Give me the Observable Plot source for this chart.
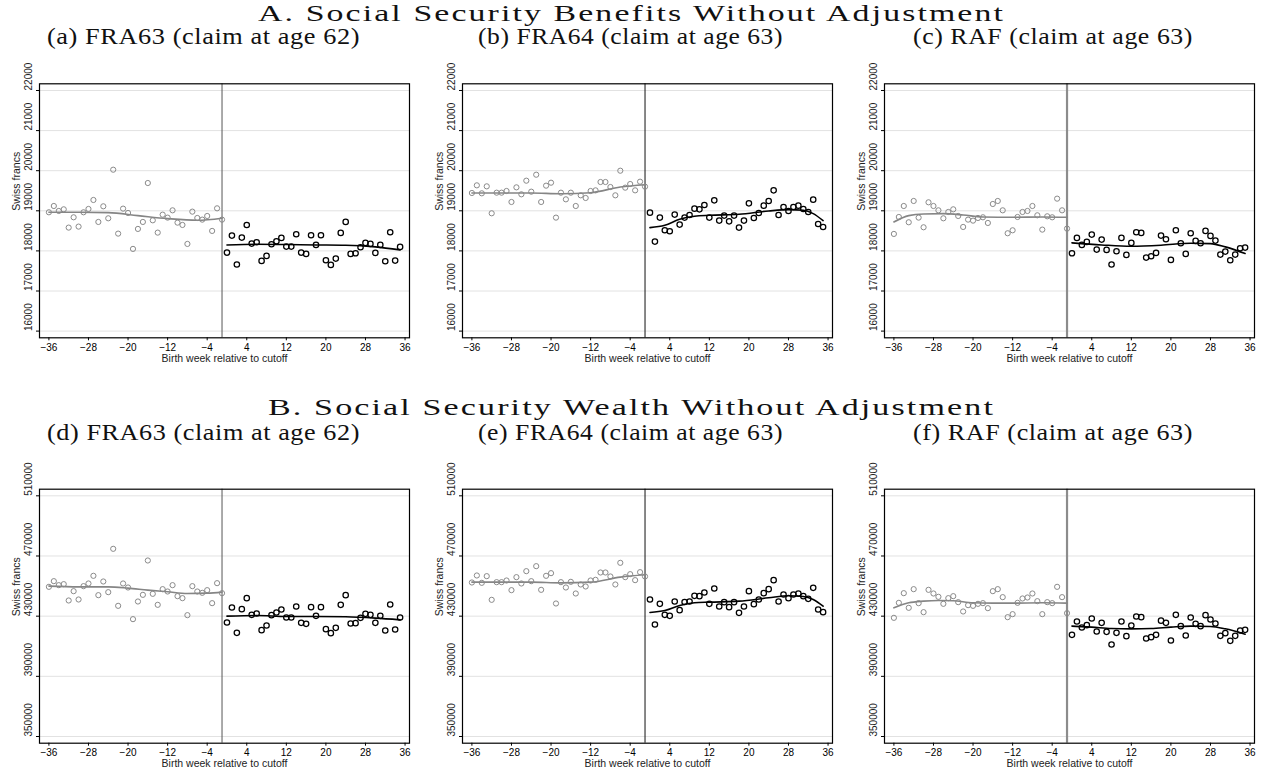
<!DOCTYPE html>
<html>
<head>
<meta charset="utf-8">
<script src="https://cdn.jsdelivr.net/npm/d3@7"></script>
<script src="https://cdn.jsdelivr.net/npm/@observablehq/plot@0.6"></script>
<style>
  html, body { margin: 0; padding: 0; background: #fff; }
  #page { position: relative; width: 1262px; height: 774px; overflow: hidden; background: #fff; }
  .ttl { position: absolute; white-space: nowrap; font-family: "Liberation Serif", "DejaVu Serif", serif;
         color: #111; transform-origin: left top; }
  .panel { position: absolute; }
</style>
</head>
<body>
<div id="page"></div>
<script>
// Birth week relative to the cutoff, before and after
const weeksPre = [-36,-35,-34,-33,-32,-31,-30,-29,-28,-27,-26,-25,-24,-23,-22,-21,-20,-19,-18,-17,-16,-15,-14,-13,-12,-11,-10,-9,-8,-7,-6,-5,-4,-3,-2,-1];
const weeksPost = [0,1,2,3,4,5,6,7,8,9,10,11,12,13,14,15,16,17,18,19,20,21,22,23,24,25,26,27,28,29,30,31,32,33,34,35];

const xTicks = [-36, -28, -20, -12, -4, 4, 12, 20, 28, 36];
const benefitTicks = [16000, 17000, 18000, 19000, 20000, 21000, 22000];
const wealthTicks = [350000, 390000, 430000, 470000, 510000];

// Panel A: Social Security benefits (Swiss francs)
const benFRA63Pre = [18963, 19120, 18996, 19037, 18581, 18838, 18606, 18963, 19046, 19270, 18722, 19112, 18813, 20025, 18431, 19054, 18946, 18050, 18548, 18722, 19693, 18763, 18456, 18904, 18830, 19012, 18705, 18647, 18174, 18979, 18821, 18780, 18871, 18498, 19062, 18780];
const benFRA63Post = [17958, 18382, 17660, 18332, 18647, 18182, 18216, 17751, 17875, 18166, 18241, 18324, 18108, 18108, 18415, 17958, 17925, 18390, 18149, 18390, 17767, 17651, 17809, 18448, 18722, 17925, 17942, 18091, 18199, 18174, 17950, 18149, 17743, 18465, 17759, 18100];
const benFRA64Pre = [19444, 19635, 19436, 19610, 18938, 19452, 19452, 19494, 19220, 19585, 19411, 19751, 19477, 19900, 19220, 19627, 19701, 18830, 19452, 19286, 19452, 19120, 19386, 19320, 19494, 19510, 19718, 19718, 19593, 19386, 20000, 19577, 19668, 19510, 19726, 19602];
const benFRA64Post = [18954, 18232, 18830, 18515, 18490, 18905, 18656, 18830, 18896, 19054, 19037, 19145, 18830, 19261, 18755, 18880, 18738, 18880, 18581, 18755, 19187, 18821, 18946, 19129, 19245, 19510, 18896, 19095, 18996, 19095, 19129, 19046, 18971, 19278, 18672, 18597];
const benRAFPre = [18423, 18846, 19120, 18714, 19245, 18830, 18589, 19212, 19120, 19012, 18813, 18971, 19037, 18871, 18597, 18780, 18755, 18821, 18838, 18697, 19170, 19245, 19012, 18440, 18514, 18846, 18971, 18996, 19120, 18888, 18531, 18863, 18838, 19303, 19012, 18556];
const benRAFPost = [17942, 18324, 18149, 18224, 18407, 18033, 18282, 18025, 17660, 17992, 18324, 17900, 18199, 18465, 18448, 17834, 17867, 17950, 18382, 18290, 17776, 18515, 18191, 17925, 18440, 18249, 18191, 18498, 18374, 18257, 17909, 17983, 17767, 17909, 18066, 18083];

// Panel B: Social Security wealth (Swiss francs)
const wltFRA63Pre = [449500, 453270, 450610, 451280, 440420, 446620, 441080, 449950, 451720, 456820, 443960, 453050, 445960, 474770, 436870, 451720, 449060, 428010, 439750, 444180, 467010, 444850, 437540, 447950, 446400, 450610, 443300, 441970, 430670, 449950, 446400, 445510, 447290, 438640, 451940, 445290];
const wltFRA63Post = [425790, 435760, 418920, 434660, 441970, 430890, 431780, 420700, 423800, 430670, 432440, 434440, 429120, 429120, 436430, 425570, 424900, 435980, 430220, 435980, 421360, 418700, 422250, 437540, 443960, 425130, 425350, 428900, 431550, 430890, 425570, 430220, 420470, 437760, 421140, 429120];
const wltFRA64Pre = [452380, 457040, 452160, 456600, 440860, 452610, 452610, 453710, 447290, 455930, 451720, 459920, 453270, 463240, 447510, 456820, 458590, 438420, 452610, 449060, 452830, 445070, 451060, 449730, 453710, 454160, 459030, 459030, 456380, 451060, 465460, 455930, 457920, 453940, 459250, 456380];
const wltFRA64Post = [441080, 424460, 438200, 430890, 430220, 439750, 433990, 439420, 439750, 443520, 443300, 445740, 438200, 448400, 436430, 439310, 435980, 439310, 432220, 436430, 446620, 437980, 441080, 445290, 447950, 453930, 439750, 444400, 441960, 444400, 445070, 443300, 441520, 448840, 434440, 432660];
const wltRAFPre = [428890, 438870, 445290, 435540, 447950, 438650, 432660, 447510, 445070, 442860, 438200, 441970, 443300, 439310, 433110, 437320, 436870, 438200, 438650, 435320, 446620, 447950, 442640, 429340, 431330, 438870, 441750, 442410, 445070, 439970, 431330, 439310, 438650, 449500, 442640, 432000];
const wltRAFPost = [417590, 426460, 422470, 424020, 428450, 419810, 425570, 419590, 411170, 418920, 426460, 416710, 423800, 429780, 429340, 415160, 416040, 417590, 426990, 425570, 413830, 430890, 423360, 417150, 429120, 424900, 423360, 430670, 427790, 425130, 416930, 418700, 413610, 416930, 420470, 420910];

// Smoothed fits on each side of the cutoff (week, value)
const fitBenFRA63PreWeeks = [-36, -30, -24, -18, -12, -6, -1];
const fitBenFRA63PreVals = [18963, 18963, 18954, 18880, 18805, 18763, 18813];
const fitBenFRA63PostWeeks = [0, 6, 12, 18, 24, 30, 35];
const fitBenFRA63PostVals = [18149, 18166, 18158, 18149, 18141, 18100, 18025];

const fitBenFRA64PreWeeks = [-36, -30, -24, -18, -12, -6, -1];
const fitBenFRA64PreVals = [19444, 19444, 19444, 19427, 19452, 19593, 19651];
const fitBenFRA64PostWeeks = [0, 3, 6, 9, 12, 18, 24, 28, 31, 33, 35];
const fitBenFRA64PostVals = [18581, 18639, 18788, 18863, 18888, 18913, 18996, 19029, 19012, 18929, 18755];

const fitBenRAFPreWeeks = [-36, -33, -30, -26, -22, -18, -12, -6, -1];
const fitBenRAFPreVals = [18722, 18880, 18921, 18929, 18896, 18846, 18838, 18846, 18838];
const fitBenRAFPostWeeks = [0, 6, 12, 18, 24, 28, 31, 35];
const fitBenRAFPostVals = [18199, 18149, 18116, 18141, 18191, 18182, 18100, 17934];

const fitWltFRA63PreWeeks = [-36, -30, -24, -20, -16, -12, -8, -4, -1];
const fitWltFRA63PreVals = [449950, 449500, 449500, 448620, 447290, 446180, 445070, 445290, 445960];
const fitWltFRA63PostWeeks = [0, 6, 12, 18, 24, 30, 35];
const fitWltFRA63PostVals = [430000, 430440, 429780, 429780, 429560, 428670, 427560];

const fitWltFRA64PreWeeks = [-36, -30, -24, -18, -12, -6, -1];
const fitWltFRA64PreVals = [452610, 452610, 452610, 452160, 452610, 455930, 457480];
const fitWltFRA64PostWeeks = [0, 3, 6, 9, 12, 18, 24, 28, 31, 33, 35];
const fitWltFRA64PostVals = [432440, 433770, 437100, 438870, 439310, 439970, 442190, 443520, 443080, 441080, 436650];

const fitWltRAFPreWeeks = [-36, -33, -30, -27, -24, -20, -16, -12, -6, -1];
const fitWltRAFPreVals = [435540, 438870, 439970, 440420, 440200, 438870, 438650, 438650, 438870, 438650];
const fitWltRAFPostWeeks = [0, 4, 8, 12, 16, 20, 24, 28, 31, 35];
const fitWltRAFPostVals = [423360, 422690, 421800, 421580, 421800, 422690, 423360, 423140, 421580, 418030];

const cutoffWeek = -1;

const pairs = (xs, ys) => xs.map((x, i) => ({week: x, value: ys[i]}));
const fmtWeek = d => (d < 0 ? "\u2212" + Math.abs(d) : String(d));

const page = document.getElementById("page");

// Serif heading, stretched horizontally to span the given width around cx
function addTitle(text, cx, top, width, size, spacing) {
  const el = document.createElement("div");
  el.className = "ttl";
  el.textContent = text;
  el.style.fontSize = size + "px";
  el.style.lineHeight = size + "px";
  el.style.letterSpacing = spacing + "px";
  el.style.top = top + "px";
  page.appendChild(el);
  const w = el.getBoundingClientRect().width;
  el.style.left = (cx - width / 2) + "px";
  el.style.transform = `scaleX(${width / w})`;
}

function panel(o) {
  const sans = "Liberation Sans, Arial, sans-serif";
  const svg = Plot.plot({
    width: o.width,
    height: o.height,
    marginLeft: 39,
    marginRight: o.width - 39 - 370,
    marginTop: o.marginTop,
    marginBottom: o.height - o.marginTop - 254,
    style: {fontFamily: sans, background: "#fff", overflow: "visible"},
    x: {domain: [-37.9, 36.9]},
    y: {domain: o.yDomain},
    marks: [
      Plot.ruleY(o.yTicks, {stroke: "#e2e2e2", strokeWidth: 1}),
      Plot.ruleX([cutoffWeek], {stroke: o.cutStroke, strokeWidth: o.cutWidth}),
      Plot.line(pairs(o.fitPreW, o.fitPreV), {x: "week", y: "value", curve: "monotone-x", stroke: "#858585", strokeWidth: 1.6}),
      Plot.line(pairs(o.fitPostW, o.fitPostV), {x: "week", y: "value", curve: "monotone-x", stroke: "#000", strokeWidth: 1.6}),
      Plot.dot(pairs(weeksPre, o.pre), {x: "week", y: "value", r: 2.6, stroke: "#8a8a8a", strokeWidth: 1, fill: "none"}),
      Plot.dot(pairs(weeksPost, o.post), {x: "week", y: "value", r: 2.7, stroke: "#000", strokeWidth: 1.25, fill: "none"}),
      Plot.axisX({ticks: xTicks, tickFormat: fmtWeek, tickSize: 3, tickPadding: 3, fontSize: 10, label: null}),
      Plot.axisY({ticks: o.yTicks, tickFormat: () => "", tickSize: 3, label: null}),
      Plot.text(o.yTicks, {y: d => d, frameAnchor: "left", dx: -11, rotate: -90, text: d => String(d), fontSize: 10, fill: "#222"}),
      Plot.text(["Swiss francs"], {frameAnchor: "left", dx: -23, rotate: -90, fontSize: 10.5, fill: "#222"}),
      Plot.text(["Birth week relative to cutoff"], {frameAnchor: "bottom", dy: 24, fontSize: 10.5, fill: "#222"}),
      Plot.frame({stroke: "#000", strokeWidth: 1.2})
    ]
  });
  svg.classList.add("panel");
  svg.style.left = o.left + "px";
  svg.style.top = o.top + "px";
  page.appendChild(svg);
}

const cols = [
  {left: 0, width: 420},
  {left: 423, width: 420},
  {left: 845, width: 417}
];
const cutStyles = [
  {cutStroke: "#555", cutWidth: 1},
  {cutStroke: "#111", cutWidth: 1},
  {cutStroke: "#8c8c8c", cutWidth: 2.2}
];

const benefitPanels = [
  {pre: benFRA63Pre, post: benFRA63Post, fitPreW: fitBenFRA63PreWeeks, fitPreV: fitBenFRA63PreVals, fitPostW: fitBenFRA63PostWeeks, fitPostV: fitBenFRA63PostVals},
  {pre: benFRA64Pre, post: benFRA64Post, fitPreW: fitBenFRA64PreWeeks, fitPreV: fitBenFRA64PreVals, fitPostW: fitBenFRA64PostWeeks, fitPostV: fitBenFRA64PostVals},
  {pre: benRAFPre, post: benRAFPost, fitPreW: fitBenRAFPreWeeks, fitPreV: fitBenRAFPreVals, fitPostW: fitBenRAFPostWeeks, fitPostV: fitBenRAFPostVals}
];
const wealthPanels = [
  {pre: wltFRA63Pre, post: wltFRA63Post, fitPreW: fitWltFRA63PreWeeks, fitPreV: fitWltFRA63PreVals, fitPostW: fitWltFRA63PostWeeks, fitPostV: fitWltFRA63PostVals},
  {pre: wltFRA64Pre, post: wltFRA64Post, fitPreW: fitWltFRA64PreWeeks, fitPreV: fitWltFRA64PreVals, fitPostW: fitWltFRA64PostWeeks, fitPostV: fitWltFRA64PostVals},
  {pre: wltRAFPre, post: wltRAFPost, fitPreW: fitWltRAFPreWeeks, fitPreV: fitWltRAFPreVals, fitPostW: fitWltRAFPostWeeks, fitPostV: fitWltRAFPostVals}
];

benefitPanels.forEach((p, i) => panel({
  ...p, ...cols[i], ...cutStyles[i],
  top: 60, height: 310, marginTop: 23.3,
  yDomain: [15833, 22167], yTicks: benefitTicks
}));
wealthPanels.forEach((p, i) => panel({
  ...p, ...cols[i], ...cutStyles[i],
  top: 466, height: 308, marginTop: 22.7,
  yDomain: [345550, 514400], yTicks: wealthTicks
}));

const subCenters = [203.5, 630.5, 1053];
addTitle("A. Social Security Benefits Without Adjustment", 631, 1, 747, 24, 1.5);
addTitle("(a) FRA63 (claim at age 62)", subCenters[0], 25, 313, 23, 0.5);
addTitle("(b) FRA64 (claim at age 63)", subCenters[1], 25, 305, 23, 0.5);
addTitle("(c) RAF (claim at age 63)", subCenters[2], 25, 280, 23, 0.5);
addTitle("B. Social Security Wealth Without Adjustment", 631, 395, 727, 24, 1.5);
addTitle("(d) FRA63 (claim at age 62)", subCenters[0], 421, 313, 23, 0.5);
addTitle("(e) FRA64 (claim at age 63)", subCenters[1], 421, 305, 23, 0.5);
addTitle("(f) RAF (claim at age 63)", subCenters[2], 421, 280, 23, 0.5);
</script>
</body>
</html>
